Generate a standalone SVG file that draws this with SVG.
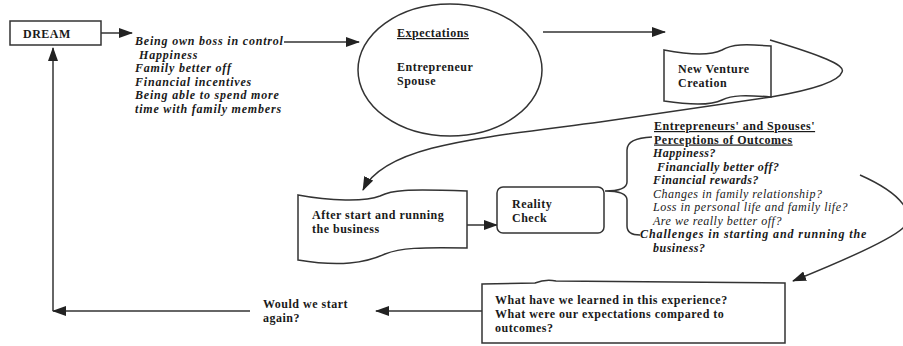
<svg xmlns="http://www.w3.org/2000/svg" width="903" height="346" viewBox="0 0 903 346">
<style>
  .shape { fill: #fff; stroke: #333; stroke-width: 1.5; }
  .line { fill: none; stroke: #333; stroke-width: 1.5; }
  .t { font-family: "Liberation Serif", "Times New Roman", serif; font-size: 12px; letter-spacing: 0.5px; fill: #1a1a1a; }
  .b { font-weight: bold; }
  .i { font-style: italic; }
  .u { text-decoration: underline; }
  .wide { letter-spacing: 0.8px; }
</style>
<defs>
  <marker id="ah" markerUnits="userSpaceOnUse" markerWidth="14" markerHeight="10" refX="13" refY="5" orient="auto">
    <path d="M0,0 L14,5 L0,10 Z" fill="#222"/>
  </marker>
</defs>
<rect width="903" height="346" fill="#fff"/>

<g id="connectors">
  <line class="line" x1="101" y1="33" x2="132" y2="33" marker-end="url(#ah)"/>
  <line class="line" x1="284" y1="42" x2="359" y2="42" marker-end="url(#ah)"/>
  <line class="line" x1="543" y1="32" x2="665" y2="32" marker-end="url(#ah)"/>
  <path class="line" d="M 770 40 C 820 55 846 65 842 72 C 838 84 800 92 771 97 L 600 122 C 480 138 385 145 363 190" marker-end="url(#ah)"/>
  <line class="line" x1="467" y1="225" x2="497" y2="225" marker-end="url(#ah)"/>
  <path class="line" d="M 652 137 Q 627 138 627 150 L 627 182 Q 627 191 605 191 Q 627 191 627 200 L 627 226 Q 627 235 640 235"/>
  <path class="line" d="M 860 175 C 905 195 915 215 903 228 C 890 240 840 262 793 281" marker-end="url(#ah)"/>
  <line class="line" x1="482" y1="311" x2="376" y2="311" marker-end="url(#ah)"/>
  <line class="line" x1="250" y1="311" x2="53" y2="311" marker-end="url(#ah)"/>
  <line class="line" x1="53" y1="311" x2="53" y2="48" marker-end="url(#ah)"/>
</g>

<g id="dream">
  <rect class="shape" x="10" y="21" width="91" height="24"/>
  <text class="t b" x="23" y="38">DREAM</text>
</g>

<g id="dream-list">
  <text class="t b i wide" x="135" y="45">Being own boss in control</text>
  <text class="t b i wide" x="139" y="58.5">Happiness</text>
  <text class="t b i wide" x="135" y="72">Family better off</text>
  <text class="t b i wide" x="135" y="85.5">Financial incentives</text>
  <text class="t b i wide" x="135" y="99">Being able to spend more</text>
  <text class="t b i wide" x="135" y="112.5">time with family members</text>
</g>

<g id="expectations">
  <ellipse class="shape" cx="450" cy="70" rx="92" ry="66"/>
  <text class="t b u" x="397" y="37">Expectations</text>
  <text class="t b" x="397" y="71">Entrepreneur</text>
  <text class="t b" x="397" y="85">Spouse</text>
</g>

<g id="new-venture">
  <path class="shape" d="M 664 50 C 690 55 710 56 722 50 C 732 44 745 44 771 46 L 771 97 C 745 95 732 95 722 100 C 710 106 690 105 664 101 Z"/>
  <text class="t b" x="678" y="73">New Venture</text>
  <text class="t b" x="678" y="87">Creation</text>
</g>

<g id="after-start">
  <path class="shape" d="M 298 195 C 330 201 365 202 380 196 C 392 190 405 189 467 191 L 467 248 C 420 247 400 248 385 254 C 365 263 340 267 298 260 Z"/>
  <text class="t b" x="312" y="219">After start and running</text>
  <text class="t b" x="312" y="233">the business</text>
</g>

<g id="reality-check">
  <rect class="shape" x="497" y="187" width="107" height="46" rx="6"/>
  <text class="t b" x="512" y="208">Reality</text>
  <text class="t b" x="512" y="222">Check</text>
</g>

<g id="perceptions">
  <text class="t b u" x="654" y="130">Entrepreneurs' and Spouses'</text>
  <text class="t b u" x="654" y="143.5">Perceptions of Outcomes</text>
  <text class="t b i" x="653" y="157">Happiness?</text>
  <text class="t b i" x="657" y="170.5">Financially better off?</text>
  <text class="t b i" x="653" y="184">Financial rewards?</text>
  <text class="t i" x="653" y="197.5">Changes in family relationship?</text>
  <text class="t i" x="653" y="211">Loss in personal life and family life?</text>
  <text class="t i" x="653" y="224.5">Are we really better off?</text>
  <text class="t b i" x="640" y="238" style="letter-spacing:0.9px">Challenges in starting and running the</text>
  <text class="t b i" x="653" y="251.5">business?</text>
</g>

<g id="learned">
  <path class="shape" d="M 482 284 L 535 283 Q 545 279 556 281 L 785 283 L 785 343 L 482 343 Z"/>
  <text class="t b" x="495" y="304">What have we learned in this experience?</text>
  <text class="t b" x="495" y="318">What were our expectations compared to</text>
  <text class="t b" x="495" y="332">outcomes?</text>
</g>

<g id="start-again">
  <text class="t b" x="263" y="308">Would we start</text>
  <text class="t b" x="263" y="322">again?</text>
</g>
</svg>
